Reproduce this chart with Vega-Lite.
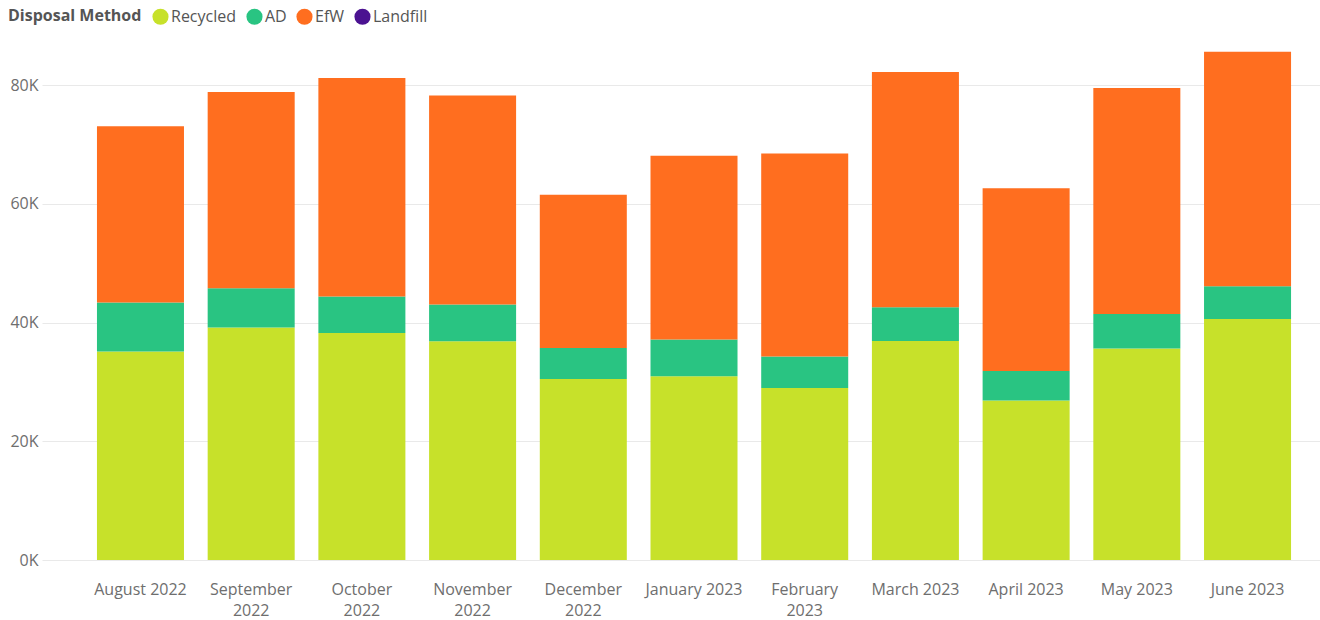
{
  "$schema": "https://vega.github.io/schema/vega-lite/v6.json",
  "width": 1278,
  "height": 520,
  "autosize": {"type": "none"},
  "padding": {"left": 42, "top": 40, "right": 0, "bottom": 60},
  "background": "white",
  "config": {
    "view": {"stroke": null},
    "font": "Open Sans",
    "axis": {"domain": false, "ticks": false, "gridColor": "#E9E9E9", "gridWidth": 1, "labelColor": "#6E6E6E", "labelFont": "Open Sans", "labelFontSize": 16}
  },
  "data": {
    "values": [
      {"month": "August 2022", "method": "Recycled", "value": 35110, "ord": 1},
      {"month": "August 2022", "method": "AD", "value": 8250, "ord": 2},
      {"month": "August 2022", "method": "EfW", "value": 29690, "ord": 3},
      {"month": "September 2022", "method": "Recycled", "value": 39150, "ord": 1},
      {"month": "September 2022", "method": "AD", "value": 6620, "ord": 2},
      {"month": "September 2022", "method": "EfW", "value": 33060, "ord": 3},
      {"month": "October 2022", "method": "Recycled", "value": 38240, "ord": 1},
      {"month": "October 2022", "method": "AD", "value": 6130, "ord": 2},
      {"month": "October 2022", "method": "EfW", "value": 36820, "ord": 3},
      {"month": "November 2022", "method": "Recycled", "value": 36850, "ord": 1},
      {"month": "November 2022", "method": "AD", "value": 6180, "ord": 2},
      {"month": "November 2022", "method": "EfW", "value": 35240, "ord": 3},
      {"month": "December 2022", "method": "Recycled", "value": 30500, "ord": 1},
      {"month": "December 2022", "method": "AD", "value": 5220, "ord": 2},
      {"month": "December 2022", "method": "EfW", "value": 25830, "ord": 3},
      {"month": "January 2023", "method": "Recycled", "value": 30950, "ord": 1},
      {"month": "January 2023", "method": "AD", "value": 6180, "ord": 2},
      {"month": "January 2023", "method": "EfW", "value": 30990, "ord": 3},
      {"month": "February 2023", "method": "Recycled", "value": 28980, "ord": 1},
      {"month": "February 2023", "method": "AD", "value": 5290, "ord": 2},
      {"month": "February 2023", "method": "EfW", "value": 34230, "ord": 3},
      {"month": "March 2023", "method": "Recycled", "value": 36900, "ord": 1},
      {"month": "March 2023", "method": "AD", "value": 5670, "ord": 2},
      {"month": "March 2023", "method": "EfW", "value": 39630, "ord": 3},
      {"month": "April 2023", "method": "Recycled", "value": 26860, "ord": 1},
      {"month": "April 2023", "method": "AD", "value": 4980, "ord": 2},
      {"month": "April 2023", "method": "EfW", "value": 30770, "ord": 3},
      {"month": "May 2023", "method": "Recycled", "value": 35620, "ord": 1},
      {"month": "May 2023", "method": "AD", "value": 5820, "ord": 2},
      {"month": "May 2023", "method": "EfW", "value": 38060, "ord": 3},
      {"month": "June 2023", "method": "Recycled", "value": 40600, "ord": 1},
      {"month": "June 2023", "method": "AD", "value": 5510, "ord": 2},
      {"month": "June 2023", "method": "EfW", "value": 39520, "ord": 3}
    ]
  },
  "mark": {"type": "bar"},
  "encoding": {
    "x": {
      "field": "month",
      "type": "nominal",
      "sort": null,
      "title": null,
      "scale": {"paddingInner": 0.214, "paddingOuter": 0.379, "align": 0.655},
      "axis": {
        "labelAngle": 0,
        "labelPadding": 34,
        "labelLineHeight": 21,
        "labelBaseline": "alphabetic",
        "labelExpr": "indexof(['September 2022','October 2022','November 2022','December 2022','February 2023'], datum.value) >= 0 ? split(datum.value, ' ') : datum.value"
      }
    },
    "y": {
      "field": "value",
      "type": "quantitative",
      "title": null,
      "stack": "zero",
      "scale": {"domain": [0, 87600], "nice": false},
      "axis": {"values": [0, 20000, 40000, 60000, 80000], "labelExpr": "(datum.value / 1000) + 'K'", "labelPadding": 4, "labelBaseline": "middle"}
    },
    "color": {
      "field": "method",
      "type": "nominal",
      "scale": {"domain": ["Recycled", "AD", "EfW", "Landfill"], "range": ["#C7E12A", "#29C482", "#FF6E1F", "#4B1291"]},
      "legend": {
        "title": "Disposal Method",
        "orient": "none",
        "legendX": -34,
        "legendY": -32,
        "direction": "horizontal",
        "titleOrient": "left",
        "titleFontSize": 16,
        "titleFontWeight": "bold",
        "titleColor": "#555555",
        "titlePadding": 10,
        "titleBaseline": "middle",
        "labelFontSize": 16,
        "labelColor": "#555555",
        "labelOffset": 2,
        "symbolType": "circle",
        "symbolSize": 260,
        "symbolStrokeWidth": 0,
        "columnPadding": 9
      }
    },
    "order": {"field": "ord", "type": "quantitative"}
  }
}
